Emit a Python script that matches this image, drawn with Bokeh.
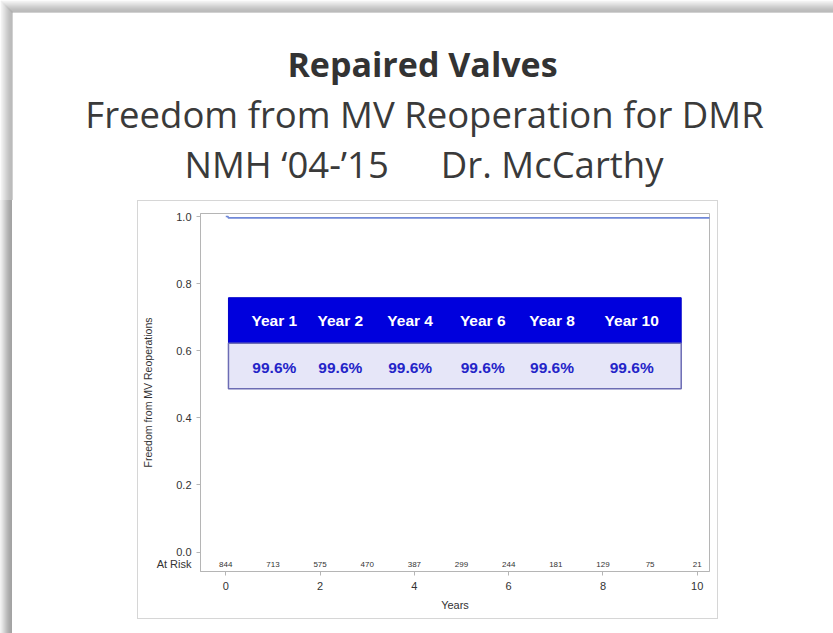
from bokeh.plotting import figure
from bokeh.layouts import column, row
from bokeh.models import Range1d, Label, FixedTicker, PrintfTickFormatter, Div
from bokeh.core.properties import value
from bokeh.embed import file_html
from bokeh.resources import INLINE

# ---------------- data ----------------
title_main = "Repaired Valves"
title_sub = "Freedom from MV Reoperation for DMR"
title_left = "NMH \u201804-\u201915"
title_right = "Dr. McCarthy"

x_label = "Years"
y_label = "Freedom from MV Reoperations"
risk_label = "At Risk"

km_time = [0.0, 0.05, 10.4]
km_surv = [1.0, 0.996, 0.996]

risk_years = [0, 1, 2, 3, 4, 5, 6, 7, 8, 9, 10]
at_risk = [844, 713, 575, 470, 387, 299, 244, 181, 129, 75, 21]

table_years = ["Year 1", "Year 2", "Year 4", "Year 6", "Year 8", "Year 10"]
table_values = ["99.6%", "99.6%", "99.6%", "99.6%", "99.6%", "99.6%"]

x_ticks = [0, 2, 4, 6, 8, 10]
y_ticks = [0.0, 0.2, 0.4, 0.6, 0.8, 1.0]

# ---------------- layout constants ----------------
TITLE_FONT = "Open Sans"
AX_FONT = "Liberation Sans"
GRAY = "#b5b5b5"
TXT = "#333333"
table_col_x = [1.03, 2.43, 3.91, 5.45, 6.92, 8.61]
TBL_L, TBL_R = 0.057, 9.66
TBL_TOP, TBL_MID, TBL_BOT = 0.758, 0.622, 0.487
HDR_Y, ROW_Y = 0.689, 0.551
RISK_Y = -0.037

shade = ["#f2f2f2", "#ebebeb", "#e3e3e3", "#dadada", "#d1d1d1", "#c8c8c8",
         "#bfbfbf", "#b7b7b7", "#b0b0b0", "#aaaaaa", "#a6a6a6", "#a3a3a3"]


def bare(fig):
    fig.grid.visible = False
    fig.outline_line_color = None
    fig.background_fill_color = "white"
    fig.border_fill_color = "white"


# ---------------- header (titles) ----------------
HW, HH = 833, 200
hdr = figure(width=HW, height=HH, x_range=Range1d(0, HW), y_range=Range1d(HH, 0),
             x_axis_type=None, y_axis_type=None,
             output_backend="svg", toolbar_location=None, min_border=0)
bare(hdr)
for i, c in enumerate(shade):
    hdr.quad(left=[i], right=[HW], top=[i], bottom=[i + 1], fill_color=c, line_color=None)
    hdr.quad(left=[i], right=[i + 1], top=[i], bottom=[HH], fill_color=c, line_color=None)

hdr.add_layout(Label(x=422, y=63.5, text=title_main, text_font=TITLE_FONT,
                     text_font_style="bold", text_font_size="34px", text_color="#333333",
                     text_align="center", text_baseline="alphabetic"))
hdr.add_layout(Label(x=424, y=113, text=title_sub, text_font=TITLE_FONT,
                     text_font_size="36.5px", text_color="#3a3a3a",
                     text_align="center", text_baseline="alphabetic"))
hdr.add_layout(Label(x=184, y=163, text=title_left, text_font=TITLE_FONT,
                     text_font_size="36.5px", text_color="#3a3a3a",
                     text_align="left", text_baseline="alphabetic"))
hdr.add_layout(Label(x=663, y=163, text=title_right, text_font=TITLE_FONT,
                     text_font_size="36.5px", text_color="#3a3a3a",
                     text_align="right", text_baseline="alphabetic"))

# ---------------- left spacer with shadow ----------------
stripes = "".join(
    f'<div style="position:absolute;left:{i}px;top:0;width:1px;height:433px;background:{c};"></div>'
    for i, c in enumerate(shade))
sp = Div(text=f'<div style="position:relative;width:137px;height:433px;">{stripes}</div>',
         width=137, height=433, margin=0)

# ---------------- chart ----------------
p = figure(width=581, height=419, x_range=Range1d(-0.536, 10.26), y_range=Range1d(-0.058, 1.009),
           output_backend="svg", toolbar_location=None,
           min_border_left=60, min_border_right=10, min_border_top=12, min_border_bottom=49)
p.styles = {"border": "1px solid #d6d6d6", "box-sizing": "border-box"}
p.grid.visible = False
p.outline_line_color = GRAY
p.background_fill_color = "white"
p.border_fill_color = "white"

for ax in (p.xaxis[0], p.yaxis[0]):
    ax.axis_line_color = GRAY
    ax.major_tick_line_color = GRAY
    ax.minor_tick_line_color = None
    ax.major_tick_out = 4
    ax.major_tick_in = 0
    ax.major_label_text_font = AX_FONT
    ax.major_label_text_font_size = "11px"
    ax.major_label_text_color = TXT
    ax.axis_label_text_font = AX_FONT
    ax.axis_label_text_font_size = "10.5px"
    ax.axis_label_text_font_style = "normal"
    ax.axis_label_text_color = TXT

p.xaxis.ticker = FixedTicker(ticks=x_ticks)
p.xaxis.major_label_standoff = 6
p.xaxis.axis_label_standoff = 6
p.xaxis.axis_label_text_font_size = "11px"
p.xaxis.axis_label = x_label

# y axis: labelled majors (incl. "At Risk"), tick marks drawn as minor ticks
p.yaxis.ticker = FixedTicker(ticks=[RISK_Y] + y_ticks, minor_ticks=y_ticks)
p.yaxis.major_label_overrides = {RISK_Y: risk_label}
p.yaxis.formatter = PrintfTickFormatter(format="%.1f")
p.yaxis.major_tick_line_color = None
p.yaxis.major_tick_out = 0
p.yaxis.minor_tick_line_color = GRAY
p.yaxis.minor_tick_out = 4
p.yaxis.minor_tick_in = 0
p.yaxis.major_label_standoff = 5
p.yaxis.axis_label_standoff = 0
p.yaxis.axis_label = y_label

# survival curve
p.step(km_time, km_surv, mode="after", line_color="#7088d8", line_width=1.6)

# at-risk row
p.text(x=risk_years, y=[RISK_Y] * len(risk_years), text=[str(v) for v in at_risk],
       text_font=value(AX_FONT), text_font_size="8px", text_color=TXT,
       text_align="center", text_baseline="middle")

# inset table
p.quad(left=[TBL_L], right=[TBL_R], top=[TBL_TOP], bottom=[TBL_MID],
       fill_color="#0000dd", line_color="#0000c8", line_width=1)
p.quad(left=[TBL_L], right=[TBL_R], top=[TBL_MID], bottom=[TBL_BOT],
       fill_color="#e6e6f8", line_color="#6c6cb4", line_width=1.5)
p.text(x=table_col_x, y=[HDR_Y] * len(table_years), text=table_years,
       text_font=value(AX_FONT), text_font_style="bold", text_font_size="15.5px",
       text_color="white", text_align="center", text_baseline="middle")
p.text(x=table_col_x, y=[ROW_Y] * len(table_values), text=table_values,
       text_font=value(AX_FONT), text_font_style="bold", text_font_size="15.5px",
       text_color="#2424c8", text_align="center", text_baseline="middle")

layout = column(hdr, row(sp, p, spacing=0), spacing=0)
open("out.html", "w").write(file_html(layout, INLINE))
